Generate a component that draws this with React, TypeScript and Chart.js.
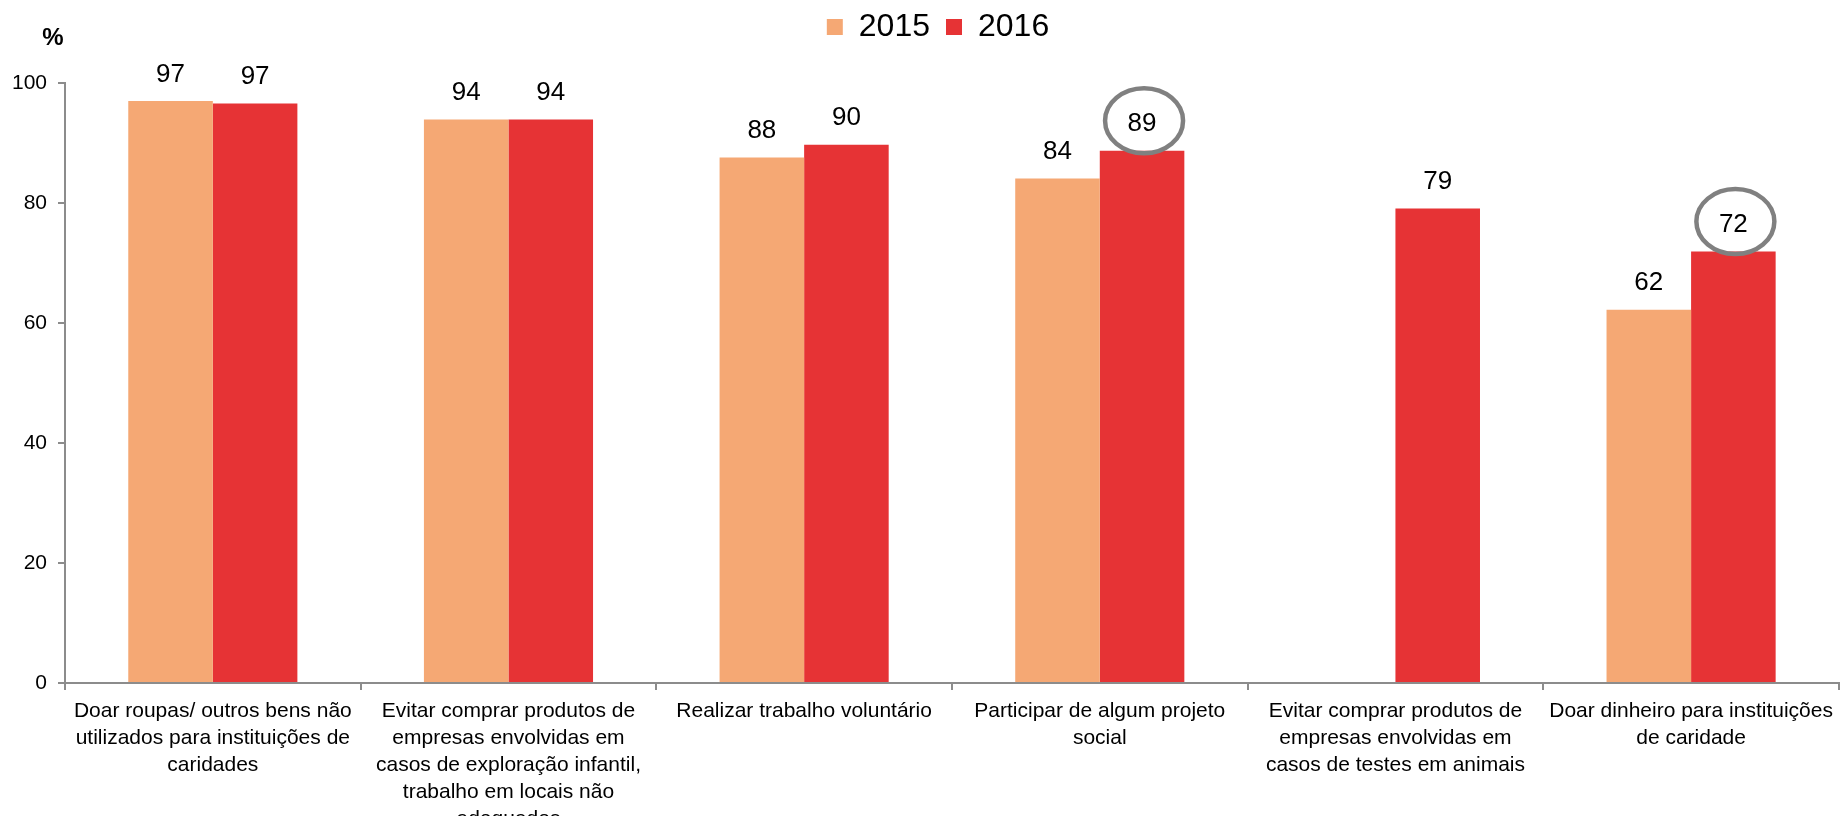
import React, { useEffect, useRef } from 'react';
import { Chart, registerables } from 'chart.js';

Chart.register(...registerables);

const FONT_FAMILY = '"Liberation Sans", Arial, Helvetica, sans-serif';

const CATEGORIES: string[][] = [
  ['Doar roupas/ outros bens não', 'utilizados para instituições de', 'caridades'],
  ['Evitar comprar produtos de', 'empresas envolvidas em', 'casos de exploração infantil,', 'trabalho em locais não', 'adequados'],
  ['Realizar trabalho voluntário'],
  ['Participar de algum projeto', 'social'],
  ['Evitar comprar produtos de', 'empresas envolvidas em', 'casos de testes em animais'],
  ['Doar dinheiro para instituições', 'de caridade'],
];

const SERIES_NAMES = ['2015', '2016'];
const VALUES_2015: (number | null)[] = [97.0, 93.9, 87.6, 84.1, null, 62.2];
const VALUES_2016: (number | null)[] = [96.6, 93.9, 89.7, 88.7, 79.1, 71.9];
const HIGHLIGHT_2016: boolean[] = [false, false, false, true, false, true];
const Y_TICKS = [0, 20, 40, 60, 80, 100];
const SERIES_COLORS = ['#F5A874', '#E63335'];
const AXIS_COLOR = '#8c8c8c';
const UNIT_LABEL = '%';

const CANVAS_W = 1841;
const CANVAS_H = 816;

const valueLabelsPlugin = {
  id: 'valueLabels',
  afterDatasetsDraw(chart: any) {
    const ctx = chart.ctx;
    ctx.save();
    ctx.font = `26px ${FONT_FAMILY}`;
    ctx.fillStyle = '#000';
    ctx.textAlign = 'center';
    ctx.textBaseline = 'alphabetic';
    chart.data.datasets.forEach((ds: any, di: number) => {
      const meta = chart.getDatasetMeta(di);
      meta.data.forEach((bar: any, i: number) => {
        const v = ds.data[i];
        if (v == null) return;
        ctx.fillText(String(Math.round(v)), bar.x, bar.y - 19.5);
      });
    });
    ctx.restore();
  },
};

const highlightPlugin = {
  id: 'highlightEllipses',
  afterDraw(chart: any) {
    const ctx = chart.ctx;
    const meta = chart.getDatasetMeta(1);
    ctx.save();
    ctx.strokeStyle = '#808080';
    ctx.lineWidth = 4.5;
    meta.data.forEach((bar: any, i: number) => {
      if (!HIGHLIGHT_2016[i]) return;
      ctx.beginPath();
      ctx.ellipse(bar.x + 2, bar.y - 30, 39, 32.5, 0, 0, Math.PI * 2);
      ctx.stroke();
    });
    ctx.restore();
  },
};

const unitLabelPlugin = {
  id: 'unitLabel',
  afterDraw(chart: any) {
    const ctx = chart.ctx;
    const area = chart.chartArea;
    ctx.save();
    ctx.font = `bold 24px ${FONT_FAMILY}`;
    ctx.fillStyle = '#000';
    ctx.textAlign = 'center';
    ctx.textBaseline = 'middle';
    ctx.fillText(UNIT_LABEL, area.left - 12, area.top - 45);
    ctx.restore();
  },
};

// extra vertical room under the legend, and a small shift of the legend block
const legendSpacerPlugin = {
  id: 'legendSpacer',
  beforeInit(chart: any) {
    const legend = chart.legend;
    if (!legend) return;
    const origFit = legend.fit;
    legend.fit = function () {
      origFit.call(this);
      this.height += 25;
    };
  },
  afterLayout(chart: any) {
    if (chart.legend) {
      chart.legend.left += 36;
      chart.legend.top -= 5;
    }
  },
};

export default function App() {
  const canvasRef = useRef<HTMLCanvasElement | null>(null);

  useEffect(() => {
    if (!canvasRef.current) return;
    Chart.defaults.font.family = FONT_FAMILY;
    const chart = new Chart(canvasRef.current, {
      type: 'bar',
      data: {
        labels: CATEGORIES,
        datasets: [
          {
            label: SERIES_NAMES[0],
            data: VALUES_2015,
            backgroundColor: SERIES_COLORS[0],
            borderWidth: 0,
            categoryPercentage: 0.572,
            barPercentage: 1.0,
          },
          {
            label: SERIES_NAMES[1],
            data: VALUES_2016,
            backgroundColor: SERIES_COLORS[1],
            borderWidth: 0,
            categoryPercentage: 0.572,
            barPercentage: 1.0,
          },
        ],
      },
      options: {
        animation: false,
        responsive: true,
        maintainAspectRatio: false,
        devicePixelRatio: 1,
        layout: { padding: { left: 0, right: 1, top: 0, bottom: 0 } },
        plugins: {
          legend: {
            display: true,
            position: 'top',
            align: 'center',
            labels: {
              font: { size: 32, family: FONT_FAMILY },
              color: '#000',
              boxWidth: 16,
              boxHeight: 16,
              padding: 16,
            },
          },
          tooltip: { enabled: false },
        },
        scales: {
          x: {
            type: 'category',
            grid: {
              display: true,
              drawOnChartArea: false,
              drawTicks: true,
              tickLength: 7,
              color: AXIS_COLOR,
              lineWidth: 2,
              offset: true,
            },
            border: { display: true, color: AXIS_COLOR, width: 2 },
            ticks: {
              font: { size: 21, family: FONT_FAMILY, lineHeight: 1.286 },
              color: '#000',
              padding: 8,
              maxRotation: 0,
              minRotation: 0,
              autoSkip: false,
            },
            afterFit: (s: any) => {
              s.height = 133;
            },
          },
          y: {
            min: 0,
            max: 100,
            grid: {
              display: true,
              drawOnChartArea: false,
              drawTicks: true,
              tickLength: 7,
              color: AXIS_COLOR,
              lineWidth: 2,
            },
            border: { display: true, color: AXIS_COLOR, width: 2 },
            ticks: {
              font: { size: 21, family: FONT_FAMILY },
              color: '#000',
              padding: 11,
            },
            afterBuildTicks: (s: any) => {
              s.ticks = Y_TICKS.map((v) => ({ value: v }));
            },
            afterFit: (s: any) => {
              s.width = 65;
            },
          },
        },
      },
      plugins: [legendSpacerPlugin, valueLabelsPlugin, highlightPlugin, unitLabelPlugin],
    } as any);
    return () => chart.destroy();
  }, []);

  return (
    <div
      style={{
        position: 'absolute',
        left: 0,
        top: 0,
        width: CANVAS_W,
        height: CANVAS_H,
        background: '#fff',
      }}
    >
      <canvas ref={canvasRef} />
    </div>
  );
}
